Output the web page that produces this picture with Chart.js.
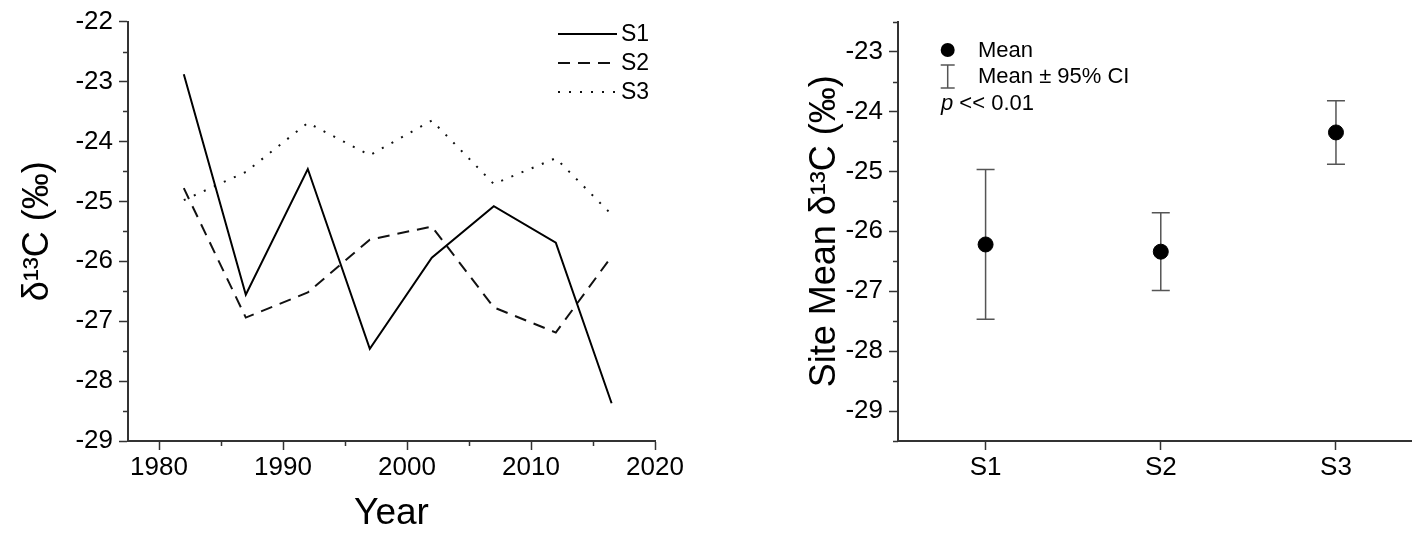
<!DOCTYPE html>
<html>
<head>
<meta charset="utf-8">
<script src="https://cdn.jsdelivr.net/npm/chart.js@4.4.1/dist/chart.umd.min.js"></script>
<style>
  body { margin: 0; background: #fff; }
  #wrap { position: relative; width: 1412px; height: 534px; overflow: hidden; }
  canvas { position: absolute; top: 0; }
  #chartLeft { left: 0; }
  #chartRight { left: 700px; }
</style>
</head>
<body>
<div id="wrap">
  <canvas id="chartLeft" width="700" height="534"></canvas>
  <canvas id="chartRight" width="712" height="534"></canvas>
</div>
<script>
// left panel: d13C per sampling year and site
const years = [1982, 1987, 1992, 1997, 2002, 2007, 2012, 2016.5];
const s1Values = [-22.88, -26.56, -24.46, -27.46, -25.94, -25.08, -25.69, -28.37];
const s2Values = [-24.78, -26.94, -26.52, -25.64, -25.42, -26.77, -27.19, -25.92];
const s3Values = [-24.98, -24.51, -23.69, -24.23, -23.65, -24.71, -24.28, -25.22];
const yearTicks = [1980, 1990, 2000, 2010, 2020];
const yearMinorTicks = [1985, 1995, 2005, 2015];
const leftYTicks = [-29, -28, -27, -26, -25, -24, -23, -22];
const leftYMinorTicks = [-28.5, -27.5, -26.5, -25.5, -24.5, -23.5, -22.5];

// right panel: site means with 95% CI
const sites = ["S1", "S2", "S3"];
const sitePos = [1, 2, 3];
const siteMeans = [-26.22, -26.34, -24.35];
const ciLow = [-27.47, -26.99, -24.88];
const ciHigh = [-24.97, -25.69, -23.82];
const rightYTicks = [-29, -28, -27, -26, -25, -24, -23];
const rightYMinorTicks = [-29.5, -28.5, -27.5, -26.5, -25.5, -24.5, -23.5, -22.5];

const fontFam = "'Liberation Sans', Arial, sans-serif";
const axisColor = "#333";
Chart.defaults.font.family = fontFam;
Chart.defaults.color = "#000";

function minorTicks(map) {
    return {
        id: "minorTicks",
        afterDraw(chart) {
            let ctx = chart.ctx;
            ctx.save();
            ctx.strokeStyle = axisColor;
            ctx.lineWidth = 1.5;
            for (let id in map) {
                let scale = chart.scales[id];
                map[id].forEach(v => {
                    let p = Math.round(scale.getPixelForValue(v)) + 0.5;
                    ctx.beginPath();
                    if (scale.isHorizontal()) {
                        ctx.moveTo(p, scale.top);
                        ctx.lineTo(p, scale.top + 5);
                    } else {
                        ctx.moveTo(scale.right, p);
                        ctx.lineTo(scale.right - 5, p);
                    }
                    ctx.stroke();
                });
            }
            ctx.restore();
        }
    };
}

function axisStyle(extra) {
    return Object.assign({
        type: "linear",
        border: { color: axisColor, width: 2 },
        grid: { drawOnChartArea: false, drawTicks: true, tickLength: 9, tickColor: axisColor, tickWidth: 1.5 },
    }, extra);
}

//---------------- left chart
const leftLegend = {
    id: "leftLegend",
    afterDraw(chart) {
        let ctx = chart.ctx;
        let rows = [34, 63, 92];
        ctx.save();
        ctx.font = "23px " + fontFam;
        ctx.textBaseline = "middle";
        chart.data.datasets.forEach((ds, i) => {
            ctx.strokeStyle = ds.borderColor;
            ctx.lineWidth = ds.borderWidth;
            ctx.setLineDash(ds.borderDash || []);
            ctx.beginPath();
            ctx.moveTo(558, rows[i]);
            ctx.lineTo(617, rows[i]);
            ctx.stroke();
            ctx.fillStyle = "#000";
            ctx.fillText(ds.label, 621, rows[i] + 1);
        });
        ctx.restore();
    }
};

function pts(vals) {
    return vals.map((v, i) => ({ x: years[i], y: v }));
}

new Chart(document.getElementById("chartLeft"), {
    type: "line",
    data: {
        datasets: [
            { label: "S1", data: pts(s1Values), borderColor: "#000", borderWidth: 2, borderDash: [] },
            { label: "S2", data: pts(s2Values), borderColor: "#111", borderWidth: 2, borderDash: [12, 8] },
            { label: "S3", data: pts(s3Values), borderColor: "#111", borderWidth: 2, borderDash: [2, 9] }
        ]
    },
    options: {
        responsive: false,
        animation: false,
        devicePixelRatio: 1,
        elements: { point: { radius: 0 }, line: { tension: 0 } },
        layout: { autoPadding: false, padding: { left: 0, top: 20, right: 45, bottom: 0 } },
        plugins: { legend: { display: false }, tooltip: { enabled: false } },
        scales: {
            x: axisStyle({
                min: 1977.5, max: 2020,
                afterBuildTicks: s => { s.ticks = yearTicks.map(v => ({ value: v })); },
                afterFit: s => { s.height = 93; },
                ticks: { font: { size: 26 }, padding: 2, callback: v => String(v) },
                title: { display: true, text: "Year", font: { size: 37 }, padding: { top: 0, bottom: -2 } }
            }),
            y: axisStyle({
                min: -29, max: -22,
                afterBuildTicks: s => { s.ticks = leftYTicks.map(v => ({ value: v })); },
                afterFit: s => { s.width = 128; },
                ticks: { font: { size: 26 }, padding: 6, callback: v => String(v) },
                title: { display: true, text: "δ¹³C (‰)", font: { size: 36 }, padding: { top: 16, bottom: 0 } }
            })
        }
    },
    plugins: [minorTicks({ x: yearMinorTicks, y: leftYMinorTicks }), leftLegend]
});

//---------------- right chart
const errorBars = {
    id: "errorBars",
    beforeDatasetsDraw(chart) {
        let ctx = chart.ctx;
        let xs = chart.scales.x, ys = chart.scales.y;
        ctx.save();
        ctx.strokeStyle = "#555";
        ctx.lineWidth = 1.5;
        sitePos.forEach((p, i) => {
            let x = xs.getPixelForValue(p);
            let top = ys.getPixelForValue(ciHigh[i]);
            let bot = ys.getPixelForValue(ciLow[i]);
            ctx.beginPath();
            ctx.moveTo(x, top); ctx.lineTo(x, bot);
            ctx.moveTo(x - 9, top); ctx.lineTo(x + 9, top);
            ctx.moveTo(x - 9, bot); ctx.lineTo(x + 9, bot);
            ctx.stroke();
        });
        ctx.restore();
    }
};

const rightLegend = {
    id: "rightLegend",
    afterDraw(chart) {
        let ctx = chart.ctx;
        let ox = 247.7; // icon centre, canvas coords
        ctx.save();
        ctx.fillStyle = "#000";
        ctx.beginPath();
        ctx.arc(ox, 50, 7, 0, Math.PI * 2);
        ctx.fill();
        ctx.strokeStyle = "#555";
        ctx.lineWidth = 1.5;
        ctx.beginPath();
        ctx.moveTo(ox, 65); ctx.lineTo(ox, 88);
        ctx.moveTo(ox - 7, 65); ctx.lineTo(ox + 7, 65);
        ctx.moveTo(ox - 7, 88); ctx.lineTo(ox + 7, 88);
        ctx.stroke();
        ctx.font = "22px " + fontFam;
        ctx.textBaseline = "middle";
        ctx.fillText("Mean", 278, 51);
        ctx.fillText("Mean ± 95% CI", 278, 77);
        ctx.font = "italic 22px " + fontFam;
        ctx.fillText("p", 241, 104);
        let w = ctx.measureText("p ").width;
        ctx.font = "22px " + fontFam;
        ctx.fillText("<< 0.01", 241 + w, 104);
        ctx.restore();
    }
};

new Chart(document.getElementById("chartRight"), {
    type: "scatter",
    data: {
        datasets: [{
            label: "Mean",
            data: siteMeans.map((m, i) => ({ x: sitePos[i], y: m })),
            backgroundColor: "#000",
            borderColor: "#000",
            pointRadius: 7.5
        }]
    },
    options: {
        responsive: false,
        animation: false,
        devicePixelRatio: 1,
        layout: { autoPadding: false, padding: { left: 0, top: 20, right: 0, bottom: 0 } },
        plugins: { legend: { display: false }, tooltip: { enabled: false } },
        scales: {
            x: axisStyle({
                min: 0.5, max: 3.434,
                afterBuildTicks: s => { s.ticks = sitePos.map(v => ({ value: v })); },
                afterFit: s => { s.height = 93; s.paddingLeft = 0; s.paddingRight = 0; },
                ticks: { font: { size: 26 }, padding: 2, callback: v => sites[sitePos.indexOf(v)] }
            }),
            y: axisStyle({
                min: -29.5, max: -22.5,
                afterBuildTicks: s => { s.ticks = rightYTicks.map(v => ({ value: v })); },
                afterFit: s => { s.width = 198; },
                ticks: { font: { size: 26 }, padding: 6, callback: v => String(v) },
                title: { display: true, text: "Site Mean δ¹³C (‰)", font: { size: 36 }, padding: { top: 103, bottom: 0 } }
            })
        }
    },
    plugins: [minorTicks({ y: rightYMinorTicks }), errorBars, rightLegend]
});
</script>
</body>
</html>
